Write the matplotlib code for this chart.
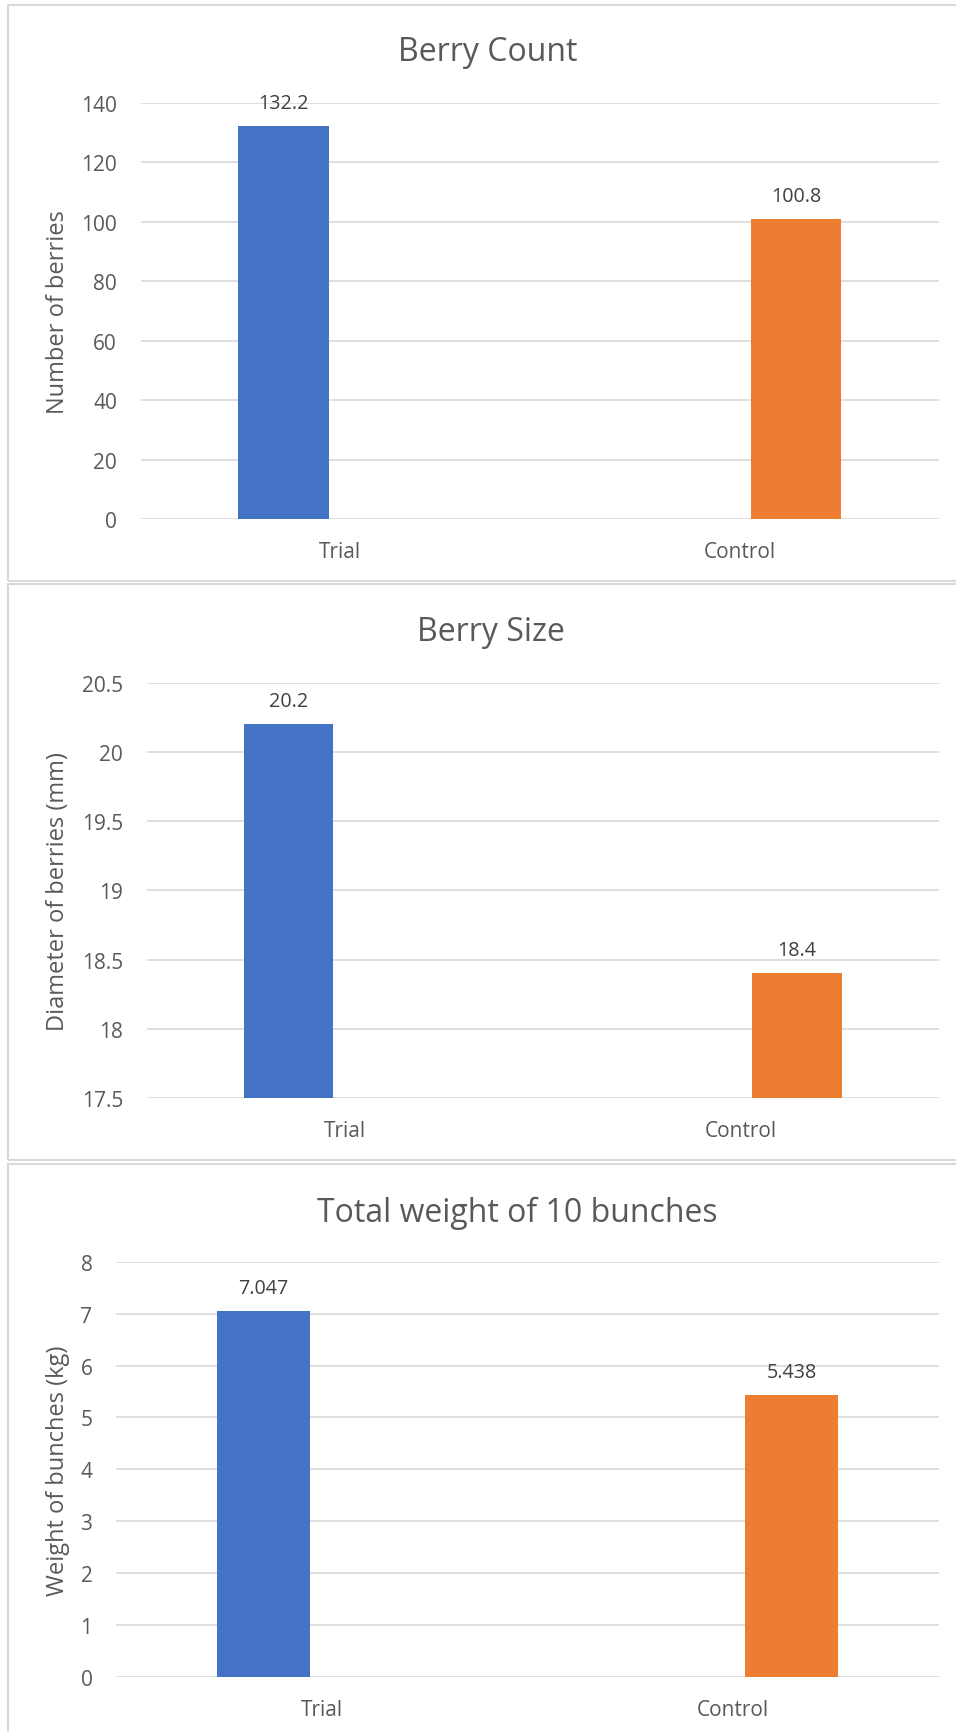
import matplotlib
matplotlib.use("Agg")
import matplotlib.pyplot as plt
from matplotlib.patches import Rectangle

plt.rcParams['font.family'] = ['Open Sans', 'DejaVu Sans']

# ---- data -------------------------------------------------------------
categories = ["Trial", "Control"]

count_values = [132.2, 100.8]
count_ticks = [0, 20, 40, 60, 80, 100, 120, 140]
count_tick_labels = ["0", "20", "40", "60", "80", "100", "120", "140"]

size_values = [20.2, 18.4]
size_ticks = [17.5, 18, 18.5, 19, 19.5, 20, 20.5]
size_tick_labels = ["17.5", "18", "18.5", "19", "19.5", "20", "20.5"]

weight_values = [7.047, 5.438]
weight_ticks = [0, 1, 2, 3, 4, 5, 6, 7, 8]
weight_tick_labels = ["0", "1", "2", "3", "4", "5", "6", "7", "8"]

value_labels_count = ["132.2", "100.8"]
value_labels_size = ["20.2", "18.4"]
value_labels_weight = ["7.047", "5.438"]

titles = ["Berry Count", "Berry Size", "Total weight of 10 bunches"]
ylabels = ["Number of berries", "Diameter of berries (mm)", "Weight of bunches (kg)"]

# ---- styling ----------------------------------------------------------
BAR_COLORS = ["#4472C4", "#ED7D31"]
GRID = "#D9D9D9"
TEXT = "#595959"
LABEL_TEXT = "#404040"

W, H = 956, 1733
DPI = 100
fig = plt.figure(figsize=(W / DPI, H / DPI), dpi=DPI)
fig.patch.set_facecolor("white")


def px_rect(left, top, right, bottom):
    """Convert pixel box (origin top-left) to figure fraction rect."""
    return [left / W, 1 - bottom / H, (right - left) / W, (bottom - top) / H]


# chart frames (right/bottom edges run off the canvas)
frames = [(7.5, 6, 1000, 582), (7.5, 585, 1000, 1161), (7.5, 1164.5, 1000, 1800)]
for l, t, r, b in frames:
    fig.patches.append(Rectangle((l / W, 1 - b / H), (r - l) / W, (b - t) / H,
                                 transform=fig.transFigure, fill=False,
                                 edgecolor=GRID, linewidth=1.5, zorder=0))

panels = [
    dict(rect=px_rect(140.7, 104, 939, 520), values=count_values,
         ticks=count_ticks, tlabels=count_tick_labels, vlabels=value_labels_count,
         title_xy=(488, 61)),
    dict(rect=px_rect(146.7, 683.7, 938.7, 1099), values=size_values,
         ticks=size_ticks, tlabels=size_tick_labels, vlabels=value_labels_size,
         title_xy=(491, 640.7)),
    dict(rect=px_rect(116, 1262.7, 938.7, 1678), values=weight_values,
         ticks=weight_ticks, tlabels=weight_tick_labels, vlabels=value_labels_weight,
         title_xy=(517, 1222)),
]

OFFSET = 0.142   # each series sits to one side of its category slot
WIDTH = 0.226

for i, p in enumerate(panels):
    ax = fig.add_axes(p["rect"])
    ax.set_facecolor("none")
    xs = [j + (-OFFSET if j == 0 else OFFSET) for j in range(len(categories))]
    ax.bar(xs, p["values"], width=WIDTH, color=BAR_COLORS, zorder=3)
    ax.set_xlim(-0.5, len(categories) - 0.5)
    ax.set_ylim(p["ticks"][0], p["ticks"][-1])
    ax.set_yticks(p["ticks"])
    ax.set_yticklabels(p["tlabels"])
    ax.set_xticks(range(len(categories)))
    ax.set_xticklabels(categories)
    ax.tick_params(axis="both", length=0, labelsize=15, labelcolor=TEXT)
    ax.tick_params(axis="y", pad=17)
    ax.tick_params(axis="x", pad=16)
    for s in ax.spines.values():
        s.set_visible(False)
    ax.grid(axis="y", color=GRID, linewidth=1.2, zorder=0)
    ax.grid(axis="x", visible=False)
    ax.set_axisbelow(True)

    for x, v, lab in zip(xs, p["values"], p["vlabels"]):
        ax.annotate(lab, (x, v), xytext=(0, 13), textcoords="offset points",
                    ha="center", va="baseline", fontsize=14.2, color=LABEL_TEXT)

    ax.set_ylabel(ylabels[i], fontsize=17, color=TEXT)
    # y-label centre sits at x = 58 px on the page
    left_px = p["rect"][0] * W
    width_px = p["rect"][2] * W
    ax.yaxis.set_label_coords((58 - left_px) / width_px, 0.5)
    ax.yaxis.label.set_verticalalignment("center")

    tx, ty = p["title_xy"]
    fig.text(tx / W, 1 - ty / H, titles[i], ha="center", va="baseline",
             fontsize=23, color=TEXT)

fig.savefig("out.png", dpi=DPI, facecolor="white")
